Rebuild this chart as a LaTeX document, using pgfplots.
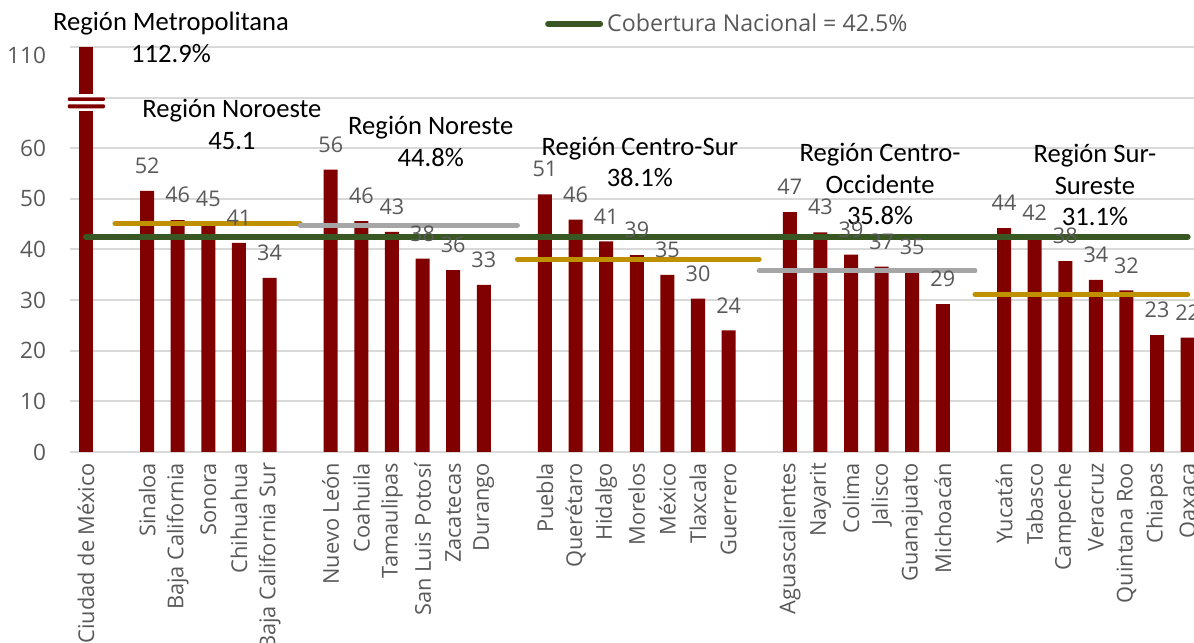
\documentclass[border=0pt]{standalone}
\usepackage{fontspec}
\setmainfont{Open Sans}
\newfontfamily\calfont{Carlito}
\usepackage{pgfplots}
\usepackage{pgfplotstable}
\pgfplotsset{compat=1.18}
\definecolor{barred}{RGB}{128,0,0}
\definecolor{natgreen}{RGB}{56,87,35}
\definecolor{goldline}{RGB}{191,144,0}
\definecolor{linegray}{RGB}{166,166,166}
\definecolor{txtgray}{RGB}{89,89,89}
\definecolor{gridgray}{RGB}{217,217,217}

% state coverage (%); x = slot position (empty slot between regions)
\pgfplotstableread{
x y lab
2 51.6 52
3 45.8 46
4 45.0 45
5 41.3 41
6 34.4 34
8 55.8 56
9 45.6 46
10 43.5 43
11 38.2 38
12 35.9 36
13 33.0 33
15 50.9 51
16 45.9 46
17 41.6 41
18 38.9 39
19 35.0 35
20 30.3 30
21 24.0 24
23 47.4 47
24 43.4 43
25 39.0 39
26 36.6 37
27 35.5 35
28 29.2 29
30 44.2 44
31 42.4 42
32 37.7 38
33 34.0 34
34 31.9 32
35 23.1 23
36 22.6 22
}\states
% Ciudad de Mexico (112.9%, drawn to the top of the truncated axis)
\pgfplotstableread{
x y
0 80
}\cdmx

\begin{document}
\begin{tikzpicture}
\begin{axis}[
  scale only axis,
  width=562.5pt, height=202.5pt,
  xmin=-0.52, xmax=36.24,
  ymin=0, ymax=80,
  clip=false,
  axis line style={draw=none},
  tick style={draw=none},
  major tick length=0pt,
  ymajorgrids,
  grid style={gridgray, line width=1pt},
  ytick={0,10,...,80},
  yticklabels={0,10,20,30,40,50,60,{},{}},
  extra y ticks={78.4},
  extra y tick labels={110},
  extra y tick style={grid=none},
  /pgf/number format/assume math mode=true,
  yticklabel style={font=\fontsize{11.3}{13}\selectfont, text=txtgray, xshift=-8.5pt},
  xtick={0,2,3,4,5,6,8,9,10,11,12,13,15,16,17,18,19,20,21,23,24,25,26,27,28,30,31,32,33,34,35,36},
  xticklabels={Ciudad de México, Sinaloa, Baja California, Sonora, Chihuahua, Baja California Sur,
    Nuevo León, Coahuila, Tamaulipas, San Luis Potosí, Zacatecas, Durango,
    Puebla, Querétaro, Hidalgo, Morelos, México, Tlaxcala, Guerrero,
    Aguascalientes, Nayarit, Colima, Jalisco, Guanajuato, Michoacán,
    Yucatán, Tabasco, Campeche, Veracruz, Quintana Roo, Chiapas, Oaxaca},
  xticklabel style={font=\fontsize{10.9}{12}\selectfont, text=txtgray, rotate=90, anchor=east},
  xticklabel shift=2pt,
  legend style={at={(0.422,1.057)}, anchor=west, draw=none, fill=none, inner sep=0pt,
    font=\fontsize{11.6}{13}\selectfont, text=txtgray},
  legend image code/.code={\draw[#1] (0pt,0pt) -- (26pt,0pt);},
]
\coordinate (bl) at (rel axis cs:0,0);
\coordinate (tr) at (rel axis cs:1,1);

\addplot[ybar, bar width=7pt, fill=barred, draw=none, forget plot] table[x=x,y=y] {\cdmx};
\addplot[ybar, bar width=7pt, fill=barred, draw=none, forget plot,
  nodes near coords, point meta=explicit symbolic,
  every node near coord/.append style={font=\fontsize{10.8}{12}\selectfont, text=txtgray, anchor=center, yshift=12.5pt}]
  table[x=x,y=y,meta=lab] {\states};

% regional averages
\addplot[goldline, line width=2.5pt, line cap=round, forget plot] coordinates {(0.95,45.1) (7,45.1)};
\addplot[linegray, line width=2.5pt, line cap=round, forget plot] coordinates {(7,44.8) (14.1,44.8)};
\addplot[goldline, line width=2.5pt, line cap=round, forget plot] coordinates {(14.1,38.1) (22,38.1)};
\addplot[linegray, line width=2.5pt, line cap=round, forget plot] coordinates {(22,35.8) (29.05,35.8)};
\addplot[goldline, line width=2.5pt, line cap=round, forget plot] coordinates {(29.05,31.1) (36,31.1)};
% national coverage
\addplot[natgreen, line width=3pt, line cap=round] coordinates {(0,42.5) (36,42.5)};
\addlegendentry{Cobertura Nacional = 42.5\%}

% axis break on the Ciudad de Mexico bar
\fill[white] (axis cs:-0.6,67.3) rectangle (axis cs:0.62,70.65);
\fill[barred, rounded corners=0.5pt] (axis cs:-0.59,69.35) rectangle (axis cs:0.62,70.06);
\fill[barred, rounded corners=0.5pt] (axis cs:-0.59,67.89) rectangle (axis cs:0.62,68.68);

% region annotations
\begin{scope}[every node/.style={font=\calfont\fontsize{13.3}{15.8}\selectfont, align=center, inner sep=0pt}]
\node at (axis cs:2.78,81.9) {Región Metropolitana\\112.9\%};
\node at (axis cs:4.77,64.7) {Región Noroeste\\45.1};
\node at (axis cs:11.27,61.4) {Región Noreste\\44.8\%};
\node at (axis cs:18.1,57.3) {Región Centro-Sur\\38.1\%};
\node at (axis cs:25.95,52.9) {Región Centro-\\Occidente\\35.8\%};
\node at (axis cs:32.97,52.7) {Región Sur-\\Sureste\\31.1\%};
\end{scope}
\end{axis}
\pgfresetboundingbox
\path ([shift={(-35pt,-95.5pt)}]bl) rectangle ([shift={(-0.5pt,23.5pt)}]tr);
\end{tikzpicture}
\end{document}
